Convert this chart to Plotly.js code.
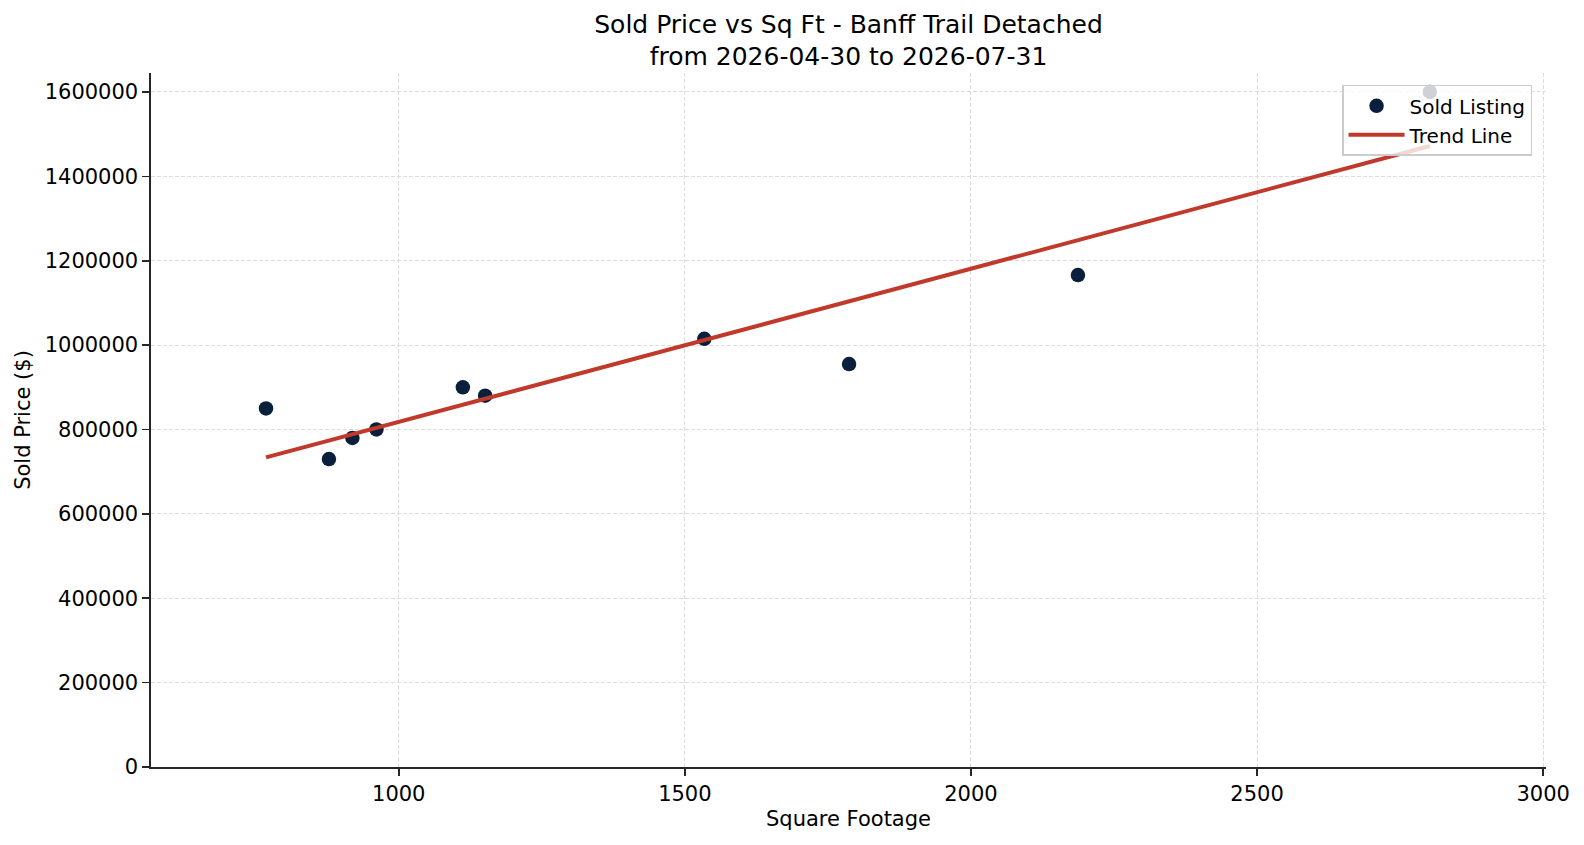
<!DOCTYPE html>
<html>
<head>
<meta charset="utf-8">
<script src="https://cdn.plot.ly/plotly-3.0.1.min.js"></script>
<style>
  html, body { margin: 0; padding: 0; background: #fff; }
  #chart { width: 1584px; height: 845px; }
</style>
</head>
<body>
<div id="chart"></div>
<script>
  // sold listings
  const sqFt = [768, 878, 919, 961, 1112, 1151, 1534, 1787, 2187, 2802];
  const soldPrice = [850000, 730000, 780000, 800000, 900000, 880000, 1015000, 955000, 1166000, 1600000];

  // trend line ends (least-squares line as drawn)
  const trendX = [768, 2802];
  const trendY = [734000, 1472000];

  const titleLines = ["Sold Price vs Sq Ft - Banff Trail Detached", "from 2026-04-30 to 2026-07-31"];

  const font = "DejaVu Sans, sans-serif";
  const ink = "#262626";

  const axisCommon = {
    showline: true,
    linecolor: ink,
    linewidth: 1.6,
    mirror: false,
    ticks: "outside",
    ticklen: 7,
    tickwidth: 1.6,
    tickcolor: ink,
    tickfont: { family: font, size: 21, color: "#000" },
    showgrid: true,
    gridcolor: "#dcdcdc",
    gridwidth: 1,
    griddash: "4px,2px",
    zeroline: false,
    automargin: false,
  };

  const traces = [
    {
      x: sqFt,
      y: soldPrice,
      type: "scatter",
      mode: "markers",
      name: "Sold Listing",
      marker: { color: "#0a1f3c", size: 14.5 },
    },
    {
      x: trendX,
      y: trendY,
      type: "scatter",
      mode: "lines",
      name: "Trend Line",
      line: { color: "#c0392b", width: 4 },
    },
  ];

  const layout = {
    width: 1584,
    height: 845,
    paper_bgcolor: "#fff",
    plot_bgcolor: "#fff",
    margin: { l: 151, r: 38, t: 73, b: 78 },
    font: { family: font, color: "#000" },
    title: {
      text: titleLines.join("<br>"),
      font: { family: font, size: 25, color: "#000" },
      x: 0.5,
      xref: "paper",
      xanchor: "center",
      y: 0.961,
      yref: "container",
      yanchor: "top",
    },
    xaxis: {
      ...axisCommon,
      range: [567, 3005],
      tick0: 0,
      dtick: 500,
      title: { text: "Square Footage", font: { family: font, size: 21, color: "#000" }, standoff: 6 },
    },
    yaxis: {
      ...axisCommon,
      range: [0, 1645000],
      tick0: 0,
      dtick: 200000,
      tickformat: "d",
      title: { text: "Sold Price ($)", font: { family: font, size: 21, color: "#000" }, standoff: 8 },
    },
    showlegend: true,
    legend: {
      x: 0.99,
      xanchor: "right",
      y: 0.983,
      yanchor: "top",
      bgcolor: "rgba(255,255,255,0.8)",
      bordercolor: "#cccccc",
      borderwidth: 1.5,
      font: { family: font, size: 20, color: "#000" },
      itemwidth: 56,
      tracegroupgap: 0,
    },
  };

  Plotly.newPlot("chart", traces, layout, { displayModeBar: false, staticPlot: true });
</script>
</body>
</html>
